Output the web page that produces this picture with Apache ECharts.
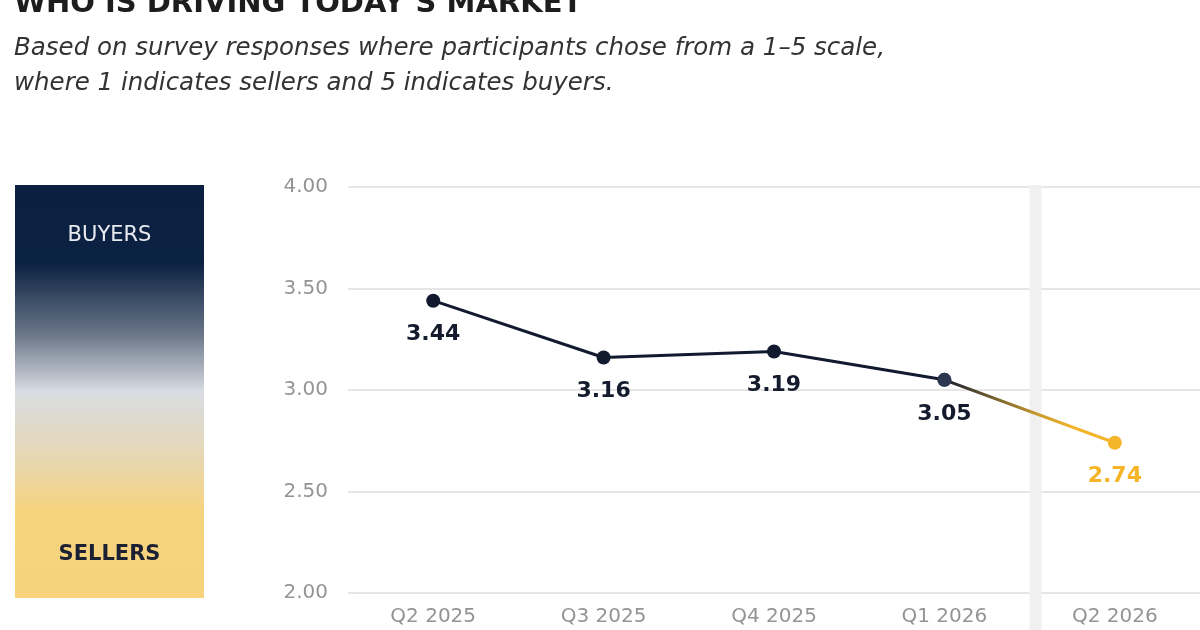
<!DOCTYPE html>
<html>
<head>
<meta charset="utf-8">
<script src="https://cdn.jsdelivr.net/npm/echarts@6/dist/echarts.min.js"></script>
<style>
html,body{margin:0;padding:0;background:#fff;}
#c{width:1200px;height:630px;}
</style>
</head>
<body>
<div id="c"></div>
<script>
const categories = ['Q2 2025', 'Q3 2025', 'Q4 2025', 'Q1 2026', 'Q2 2026'];
const values = [3.44, 3.16, 3.19, 3.05, 2.74];
const yTicks = [2.0, 2.5, 3.0, 3.5, 4.0];
const titleText = 'WHO IS DRIVING TODAY\u2019S MARKET';
const subtitleLines = ['Based on survey responses where participants chose from a 1\u20135 scale,', 'where 1 indicates sellers and 5 indicates buyers.'];

const NAVY = '#111a2e';
const GOLD = '#f4b52c';
const FONT = '"DejaVu Sans", sans-serif';

const histIdx = categories.length - 2;
const mainData = values.map((v, i) => i <= histIdx ? v : null);
const lastData = values.map((v, i) => i >= histIdx ? v : null);

const chart = echarts.init(document.getElementById('c'), null, {renderer: 'canvas'});

const option = {
  backgroundColor: '#ffffff',
  animation: false,
  grid: {left: 348, top: 187, width: 857, height: 406, containLabel: false},
  xAxis: {
    type: 'category',
    data: categories,
    boundaryGap: true,
    axisLine: {show: false},
    axisTick: {show: false},
    axisLabel: {color: '#949494', fontSize: 20, fontFamily: FONT, margin: 14}
  },
  yAxis: {
    type: 'value',
    min: yTicks[0],
    max: yTicks[yTicks.length - 1],
    interval: 0.5,
    axisLine: {show: false},
    axisTick: {show: false},
    axisLabel: {color: '#949494', fontSize: 20, fontFamily: FONT, margin: 20,
      formatter: v => v.toFixed(2)},
    splitLine: {lineStyle: {color: '#e6e6e6', width: 2}}
  },
  series: [
    {
      type: 'line',
      data: lastData,
      z: 3,
      symbol: 'circle',
      symbolSize: 14,
      lineStyle: {width: 3, color: new echarts.graphic.LinearGradient(0, 0, 1, 0, [
        {offset: 0, color: NAVY}, {offset: 0.55, color: '#c99a2e'}, {offset: 0.75, color: GOLD}, {offset: 1, color: GOLD}
      ])},
      itemStyle: {color: p => p.dataIndex === categories.length - 1 ? GOLD : '#2b3850'},
      label: {show: true, position: 'bottom', distance: 16,
        formatter: p => p.dataIndex === categories.length - 1 ? p.value.toFixed(2) : '',
        color: '#f6b526', fontSize: 22, fontWeight: 'bold', fontFamily: FONT}
    },
    {
      type: 'line',
      data: mainData,
      z: 4,
      symbol: 'circle',
      symbolSize: 14,
      lineStyle: {width: 3, color: NAVY},
      itemStyle: {color: p => p.dataIndex === histIdx ? '#2b3850' : NAVY},
      label: {show: true, position: 'bottom', distance: 16,
        formatter: p => p.value.toFixed(2),
        color: '#141b2d', fontSize: 22, fontWeight: 'bold', fontFamily: FONT}
    }
  ]
};
chart.setOption(option);

// Highlight band at the boundary before the forecast category
const xA = chart.convertToPixel({xAxisIndex: 0}, categories[histIdx]);
const xB = chart.convertToPixel({xAxisIndex: 0}, categories[histIdx + 1]);
const yTop = chart.convertToPixel({yAxisIndex: 0}, yTicks[yTicks.length - 1]);
const bandX = (xA + xB) / 2;

chart.setOption({
  graphic: [
    {type: 'rect', z: 0, silent: true,
      shape: {x: bandX, y: yTop - 2, width: 12, height: 630 - yTop + 2},
      style: {fill: '#f0f0f0'}},
    {type: 'text', z: 10, left: 14, top: -10,
      style: {text: titleText, fill: '#1d1d1d', font: 'bold 29px ' + FONT}},
    {type: 'text', z: 10, left: 14, top: 36,
      style: {text: subtitleLines[0], fill: '#333333', font: 'italic 24.5px ' + FONT}},
    {type: 'text', z: 10, left: 14, top: 71,
      style: {text: subtitleLines[1], fill: '#333333', font: 'italic 24.5px ' + FONT}},
    {type: 'rect', z: 10, silent: true,
      shape: {x: 15, y: 185, width: 189, height: 413},
      style: {fill: new echarts.graphic.LinearGradient(0, 0, 0, 1, [
        {offset: 0, color: '#0b2040'},
        {offset: 0.19, color: '#0c2242'},
        {offset: 0.36, color: '#697588'},
        {offset: 0.5, color: '#d8dce2'},
        {offset: 0.63, color: '#e4d8bd'},
        {offset: 0.79, color: '#f6d37e'},
        {offset: 1, color: '#f6d27c'}
      ])}},
    {type: 'text', z: 11, x: 109.5, y: 236,
      style: {text: 'BUYERS', fill: '#e8eaef', font: '500 21px ' + FONT, align: 'center', verticalAlign: 'middle'}},
    {type: 'text', z: 11, x: 109.5, y: 555,
      style: {text: 'SELLERS', fill: '#1b2132', font: 'bold 21px ' + FONT, align: 'center', verticalAlign: 'middle'}}
  ]
});
</script>
</body>
</html>
